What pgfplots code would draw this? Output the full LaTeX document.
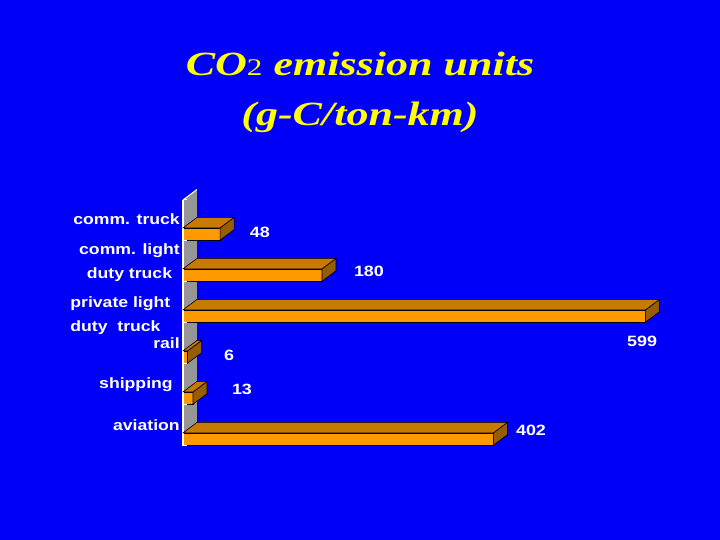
\documentclass[border=0pt]{standalone}
\usepackage{pgfplots}
\usepackage{pgfplotstable}
\pgfplotsset{compat=1.18}
\usepackage{fontspec}
\setmainfont{Liberation Serif}
\setsansfont{Liberation Sans}

\definecolor{bgblue}{RGB}{0,0,250}
\definecolor{ttlyellow}{RGB}{255,255,0}
\definecolor{barfront}{RGB}{255,153,0}
\definecolor{bartop}{RGB}{199,121,0}
\definecolor{barside}{RGB}{150,94,0}
\definecolor{wallgray}{RGB}{150,150,150}

\newcommand\lblfont{\sffamily\bfseries\fontsize{15}{24}\selectfont}
\pgfdeclareplotmark{void}{}

% bars: pos = row from bottom, val = g-C/ton-km
\pgfplotstableread{
pos val
5 48
4 180
3 599
2 6
1 13
0 402
}\bars

% where the value labels sit
\pgfplotstableread{
x y t
99.7 5.22 48
240.9 4.27 180
594.6 2.54 599
59.6 2.22 6
76.4 1.39 13
450.8 0.39 402
}\barlabels

\begin{document}
\begin{tikzpicture}
\fill[bgblue] (0,0) rectangle (720bp,540bp);
\useasboundingbox (0,0) rectangle (720bp,540bp);

\node[anchor=base, text=ttlyellow, xscale=1.3,
  font=\rmfamily\bfseries\itshape\fontsize{34}{40}\selectfont] at (360bp,464bp)
  {CO{\upshape\mdseries\fontsize{24}{24}\selectfont 2} emission units};
\node[anchor=base, text=ttlyellow, xscale=1.3,
  font=\rmfamily\bfseries\itshape\fontsize{34}{40}\selectfont] at (360bp,414bp)
  {(g-C/ton-km)};

\begin{axis}[
  at={(183bp,94bp)}, anchor=origin,
  x=0.772bp, y=41bp,
  xmin=0, xmax=600, ymin=0, ymax=6,
  axis x line=none,
  axis y line*=left,
  y axis line style={white, line width=1.2bp},
  clip=false, axis on top,
  ytick={0.5,1.5,2.5,3.5,4.5,5.5},
  yticklabels={aviation, shipping\hspace*{6bp}, rail,
    {\raisebox{-15.5bp}[0pt][0pt]{\begin{tabular}{@{}l@{}}private light\\duty\ \ truck\end{tabular}}\hspace*{8bp}},
    {\begin{tabular}{@{}c@{}}comm. light\\duty truck\end{tabular}},
    {\raisebox{2.5bp}{comm. truck}}},
  major tick length=0pt,
  yticklabel style={font=\lblfont, text=white, inner sep=0pt, xshift=-3bp, xscale=1.18},
  extra y ticks={0,1,2,3,4,5,6},
  extra y tick labels={},
  extra y tick style={major tick length=4bp, tick align=inside,
    tick style={white, line width=1bp}},
]
% back wall
\addplot[fill=wallgray, draw=none] coordinates {(0,0) (0,6) (18.1,6.256) (18.1,0.256) (0,0)};
\addplot[white, line width=1bp] coordinates {(0,6) (18.1,6.256)};

% front faces
\addplot[xbar, bar width=12.3bp, bar shift=6.97bp, fill=barfront, draw=black,
  line width=0.6bp] table[x=val, y=pos] {\bars};

% top and side faces, drawn at the end of each bar
\addplot[only marks, mark=void, scatter,
  visualization depends on={\thisrow{val} \as \barlen},
  scatter/@pre marker code/.code={%
    \filldraw[fill=barside, draw=black, line width=0.6bp]
      (0,0.82bp) -- (0,13.1bp) -- (14bp,23.6bp) -- (14bp,11.3bp) -- cycle;
    \filldraw[fill=bartop, draw=black, line width=0.6bp]
      ({-\barlen*0.772bp},13.1bp) -- (0,13.1bp) -- (14bp,23.6bp)
      -- ({-\barlen*0.772bp+14bp},23.6bp) -- cycle;
  },
  scatter/@post marker code/.code={},
] table[x=val, y=pos] {\bars};

% value labels
\addplot[only marks, mark=none, nodes near coords, point meta=explicit symbolic,
  nodes near coords align={anchor=center},
  every node near coord/.append style={font=\lblfont, text=white, inner sep=0pt, xscale=1.2},
] table[x=x, y=y, meta=t] {\barlabels};
\end{axis}
\end{tikzpicture}
\end{document}
